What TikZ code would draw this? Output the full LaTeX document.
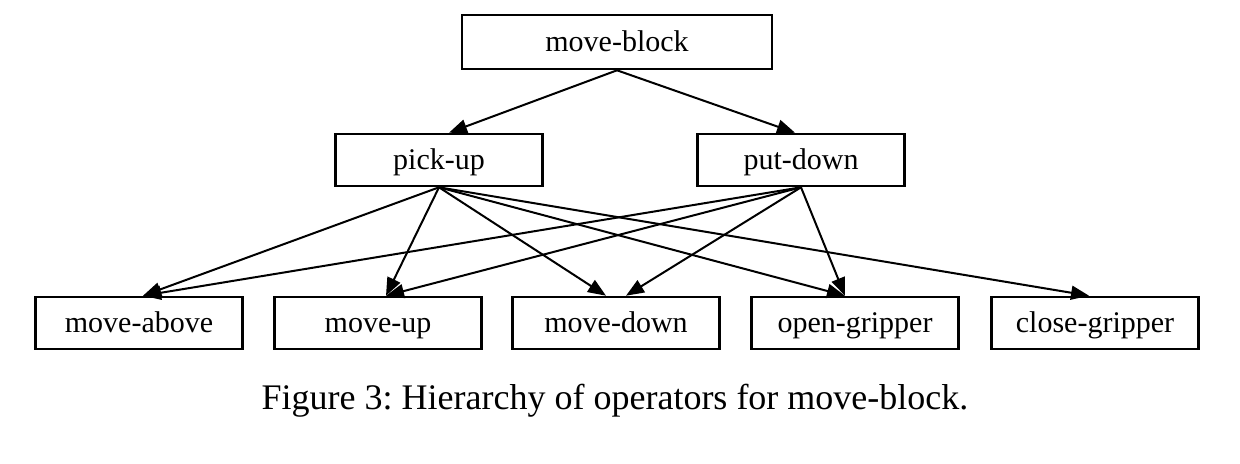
\documentclass[tikz,border=0pt]{standalone}
\usepackage{fontspec}
\setmainfont{Liberation Serif}
\usetikzlibrary{arrows.meta}
\frenchspacing

\begin{document}
\begin{tikzpicture}[
            x=0.5pt, y=-0.5pt,
            op/.style={draw, line width=1.3pt, rectangle, minimum width=103.5pt, minimum height=26pt, inner sep=0pt, text height=11.5pt, text depth=2.5pt, font=\fontsize{15}{18}\selectfont},
            link/.style={line width=1pt, -{Triangle[length=9pt,width=7pt]}}
        ]
        \useasboundingbox (0,0) rectangle (1240,463);

        % operators
        \node[op, minimum width=155pt, minimum height=27pt] (moveblock) at (617,42) {move-block};
        \node[op] (pickup) at (439,160) {pick-up};
        \node[op] (putdown) at (801,160) {put-down};
        \node[op] (moveabove) at (139,323) {move-above};
        \node[op] (moveup) at (378,323) {move-up};
        \node[op] (movedown) at (616,323) {move-down};
        \node[op] (opengripper) at (855,323) {open-gripper};
        \node[op] (closegripper) at (1095,323) {close-gripper};

        \node[font=\fontsize{18}{22}\selectfont] (caption) at (615,401) {Figure 3: Hierarchy of operators for move-block.};

        % links
        \draw[link] (moveblock.south) -- ([xshift=5pt]pickup.north);
        \draw[link] (moveblock.south) -- ([xshift=-3pt]putdown.north);
        \foreach \dst/\dx in {moveabove/2pt, moveup/4pt, movedown/-5pt, opengripper/-5pt, closegripper/-3pt}
            \draw[link] (pickup.south) -- ([xshift=\dx]\dst.north);
        \foreach \dst/\dx in {moveabove/2pt, moveup/4pt, movedown/5pt, opengripper/-5pt}
            \draw[link] (putdown.south) -- ([xshift=\dx]\dst.north);

        \end{tikzpicture}
\end{document}
